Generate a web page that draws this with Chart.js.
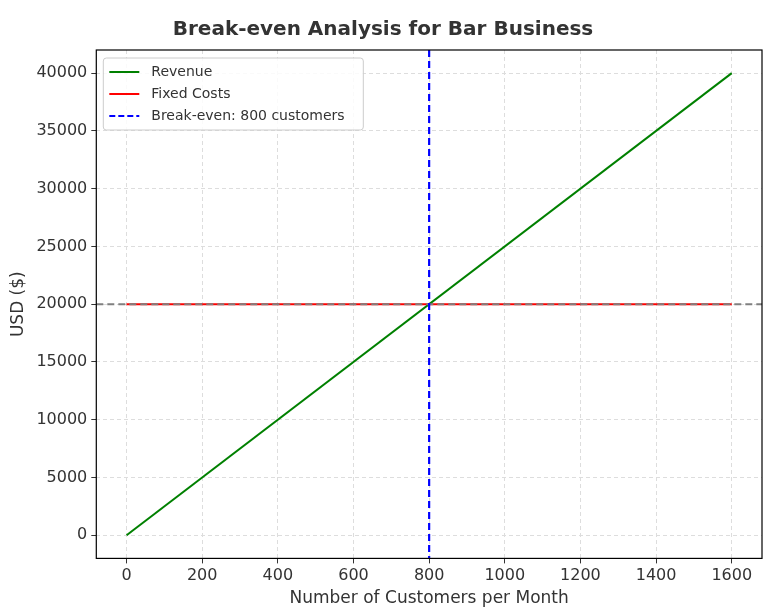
<!DOCTYPE html>
<html><head><meta charset="utf-8">
<script src="https://cdn.jsdelivr.net/npm/chart.js@4/dist/chart.umd.min.js"></script>
<style>html,body{margin:0;padding:0;background:#fff}#w{width:772px;height:613px}</style>
</head><body><div id="w"><canvas id="c"></canvas></div>
<script>
const customers = [0, 1600];
const revenue = [0, 40000];
const fixedCosts = [20000, 20000];
const breakEvenCustomers = 800;
const fixedLevel = 20000;
const xTicks = [0,200,400,600,800,1000,1200,1400,1600];
const yTicks = [0,5000,10000,15000,20000,25000,30000,35000,40000];
const xMin = -80, xMax = 1680, yMin = -2000, yMax = 42000;

const FONT = "'DejaVu Sans', sans-serif";
const pts = (xs, ys) => xs.map((x,i)=>({x, y: ys[i]}));

const legendItems = [
  {label:'Revenue', color:'green', dash:[]},
  {label:'Fixed Costs', color:'red', dash:[]},
  {label:'Break-even: ' + breakEvenCustomers + ' customers', color:'blue', dash:[6,3]}
];

const extras = {
  id:'extras',
  afterDatasetsDraw(chart){
    const {ctx, chartArea:a, scales:{x,y}} = chart;
    ctx.save();
    ctx.beginPath(); ctx.rect(a.left,a.top,a.right-a.left,a.bottom-a.top); ctx.clip();
    ctx.strokeStyle='gray'; ctx.lineWidth=2; ctx.setLineDash([7,4]);
    const yy = y.getPixelForValue(fixedLevel);
    ctx.beginPath(); ctx.moveTo(a.left,yy); ctx.lineTo(a.right,yy); ctx.stroke();
    ctx.strokeStyle='blue'; ctx.lineWidth=2.2; ctx.setLineDash([7,4]);
    const xx = x.getPixelForValue(breakEvenCustomers);
    ctx.beginPath(); ctx.moveTo(xx,a.top); ctx.lineTo(xx,a.bottom); ctx.stroke();
    ctx.restore();
    ctx.save(); ctx.strokeStyle='#000'; ctx.lineWidth=1.2; ctx.setLineDash([]);
    ctx.strokeRect(a.left,a.top,a.right-a.left,a.bottom-a.top);
    const lx=a.left+7, ly=a.top+8, lw=260, lh=72;
    ctx.fillStyle='rgba(255,255,255,0.85)'; ctx.strokeStyle='#ccc'; ctx.lineWidth=1;
    ctx.beginPath(); ctx.roundRect(lx,ly,lw,lh,3); ctx.fill(); ctx.stroke();
    ctx.font='14px '+FONT; ctx.textBaseline='middle';
    legendItems.forEach((it,i)=>{
      const cy = ly+14+i*22;
      ctx.strokeStyle=it.color; ctx.lineWidth=2; ctx.setLineDash(it.dash);
      ctx.beginPath(); ctx.moveTo(lx+6,cy); ctx.lineTo(lx+36,cy); ctx.stroke();
      ctx.fillStyle='#333'; ctx.fillText(it.label, lx+48, cy);
    });
    ctx.restore();
  }
};

new Chart(document.getElementById('c'), {
  type:'scatter',
  data:{datasets:[
    {label:'Revenue', data:pts(customers,revenue), showLine:true, borderColor:'green', borderWidth:2, pointRadius:0},
    {label:'Fixed Costs', data:pts(customers,fixedCosts), showLine:true, borderColor:'red', borderWidth:2, pointRadius:0}
  ]},
  options:{
    responsive:true, maintainAspectRatio:false, animation:false,
    layout:{padding:{top:0,right:10,left:4,bottom:0}},
    plugins:{
      legend:{display:false}, tooltip:{enabled:false},
      title:{display:true, text:'Break-even Analysis for Bar Business', color:'#333',
        font:{family:FONT, size:20, weight:'bold'}, padding:{top:18,bottom:8}}
    },
    scales:{
      x:{type:'linear', min:xMin, max:xMax,
        afterBuildTicks:s=>{s.ticks=xTicks.map(v=>({value:v}));},
        grid:{color:'#ddd', tickColor:'#333', tickLength:5},
        border:{display:false, dash:[4,3]},
        ticks:{color:'#333', font:{family:FONT,size:16}, padding:3, callback:v=>String(v)},
        title:{display:true, text:'Number of Customers per Month', color:'#333', font:{family:FONT,size:17}, padding:{top:0,bottom:4}}},
      y:{min:yMin, max:yMax,
        afterBuildTicks:s=>{s.ticks=yTicks.map(v=>({value:v}));},
        grid:{color:'#ddd', tickColor:'#333', tickLength:5},
        border:{display:false, dash:[4,3]},
        ticks:{color:'#333', font:{family:FONT,size:16}, padding:4, callback:v=>String(v)},
        title:{display:true, text:'USD ($)', color:'#333', font:{family:FONT,size:17}}}
    }
  },
  plugins:[extras]
});
</script></body></html>
